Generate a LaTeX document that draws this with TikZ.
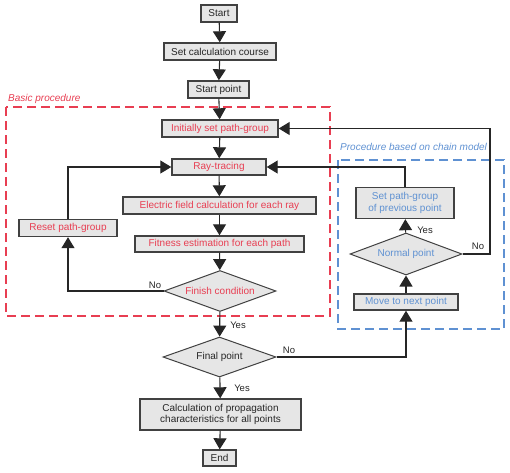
\documentclass[tikz,border=0pt]{standalone}
\usepackage{fontspec}
\setmainfont{Liberation Sans}
\usetikzlibrary{shapes.geometric,arrows.meta}
\definecolor{bred}{RGB}{232,62,82}
\definecolor{bblue}{RGB}{95,145,210}
\definecolor{bfill}{RGB}{230,230,230}
\definecolor{bline}{RGB}{65,65,65}
\begin{document}
\begin{tikzpicture}[x=1pt,y=-1pt,
 font=\fontsize{10}{11.5}\selectfont,
 box/.style={draw=bline, line width=1.4pt, fill=bfill, inner sep=0pt, align=center, text=black!85},
 dia/.style={diamond, draw=bline, line width=1pt, fill=bfill, inner sep=0pt, aspect=2.7, text=black!85},
 arr/.style={draw=black!85, line width=1.1pt, -{Triangle[length=11pt,width=13pt]}},
 lbl/.style={font=\fontsize{9.5}{11}\selectfont, text=black!85},
 red/.style={text=bred},
 blue/.style={text=bblue}
]
\useasboundingbox (0,0) rectangle (510,472);
% group frames
\draw[bred, line width=1.2pt, dash pattern=on 9pt off 5pt] (6,107) rectangle (330,316);
\draw[bblue, line width=1.2pt, dash pattern=on 9pt off 5pt] (338,160) rectangle (504,329);
\node[anchor=west, inner sep=0pt, text=bred, font=\itshape\fontsize{10}{11}\selectfont] (lbasic) at (8,98.5) {Basic procedure};
\node[anchor=west, inner sep=0pt, text=bblue, font=\itshape\fontsize{10}{11}\selectfont] (lchain) at (340,147) {Procedure based on chain model};
% nodes
\node[box, minimum width=36pt, minimum height=17pt] (start) at (219,13.5) {Start};
\node[box, minimum width=112pt, minimum height=17pt] (calc) at (220,51.5) {Set calculation course};
\node[box, minimum width=61pt, minimum height=17pt] (spt) at (218.5,89.5) {Start point};
\node[box, red, minimum width=116pt, minimum height=17pt] (init) at (220,128.5) {Initially set path-group};
\node[box, red, minimum width=94pt, minimum height=16pt] (ray) at (219,167) {Ray-tracing};
\node[box, red, minimum width=193pt, minimum height=17pt] (efield) at (219.5,205.5) {Electric field calculation for each ray};
\node[box, red, minimum width=169pt, minimum height=16pt] (fit) at (219.5,244) {Fitness estimation for each path};
\node[dia, red, minimum width=112pt, minimum height=41pt] (finish) at (220,291) {Finish condition};
\node[box, red, minimum width=98pt, minimum height=17pt] (reset) at (68,228) {Reset path-group};
\node[dia, minimum width=113pt, minimum height=40pt] (final) at (219.5,357) {Final point};
\node[box, minimum width=161pt, minimum height=31pt] (calcall) at (220.5,414.5) {Calculation of propagation\\characteristics for all points};
\node[box, minimum width=33pt, minimum height=16pt] (end) at (219.5,458) {End};
\node[box, blue, minimum width=98pt, minimum height=31pt] (setprev) at (405,203) {Set path-group\\of previous point};
\node[dia, blue, minimum width=112pt, minimum height=42pt] (normal) at (406,254) {Normal point};
\node[box, blue, minimum width=104pt, minimum height=16pt] (move) at (406,302) {Move to next point};
% connectors
\draw[arr] (start) -- (calc);
\draw[arr] (calc) -- (spt);
\draw[arr] (spt) -- (init);
\draw[arr] (init) -- (ray);
\draw[arr] (ray) -- (efield);
\draw[arr] (efield) -- (fit);
\draw[arr] (fit) -- (finish);
\draw[arr] (finish) -- (final);
\draw[arr] (final) -- (calcall);
\draw[arr] (calcall) -- (end);
\draw[arr] (finish.west) -| (reset.south);
\draw[arr] (reset.north) |- (ray.west);
\draw[arr] (setprev.north) |- (ray.east);
\draw[arr] (final.east) -| (move.south);
\draw[arr] (move) -- (normal);
\draw[arr] (normal) -- (setprev);
\coordinate (ncorner) at (490,254);
\draw[arr] (normal.east) -- (ncorner) |- (init.east);
% labels
\node[lbl] (yes1) at (238,325) {Yes};
\node[lbl] (yes2) at (242,388) {Yes};
\node[lbl] (yes3) at (425,230) {Yes};
\node[lbl] (no1) at (155,285) {No};
\node[lbl] (no2) at (289,350) {No};
\node[lbl] (no3) at (478,246) {No};
\end{tikzpicture}
\end{document}
